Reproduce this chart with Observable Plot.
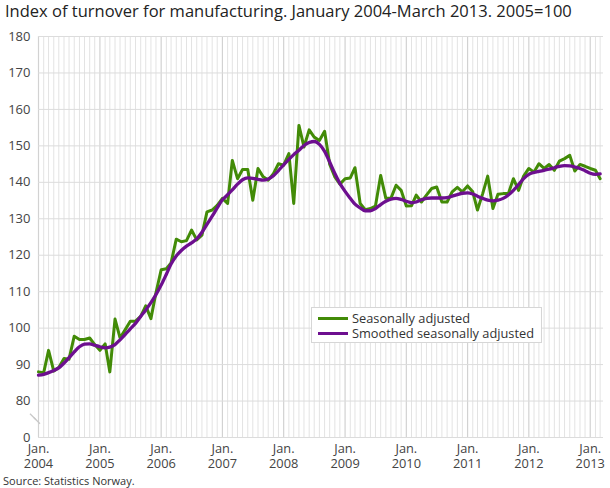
<!DOCTYPE html>
<html>
<head>
<meta charset="utf-8">
<script src="https://cdn.jsdelivr.net/npm/d3@7"></script>
<script src="https://cdn.jsdelivr.net/npm/@observablehq/plot@0.6"></script>
<style>
  html, body { margin: 0; padding: 0; background: #fff; }
  #wrap { position: relative; width: 610px; height: 488px; font-family: "Open Sans", sans-serif; overflow: hidden; }
  #title { position: absolute; left: 5px; top: -1px; font-size: 16.5px; color: #222; white-space: nowrap; }
  #chart { position: absolute; left: 0; top: 22px; }
  #source { position: absolute; left: 3px; top: 473px; font-size: 11px; color: #333; }
  #legend { position: absolute; left: 311px; top: 307px; width: 229px; height: 34px; border: 1px solid #d6d6d6; background: #fff; font-size: 12.8px; color: #333; }
  .item { position: absolute; left: 6px; height: 15px; line-height: 15px; white-space: nowrap; }
  .swatch { display: inline-block; width: 30px; height: 3px; vertical-align: middle; margin-right: 4px; position: relative; top: -1px; }
</style>
</head>
<body>
<div id="wrap">
  <div id="title">Index of turnover for manufacturing. January 2004-March 2013. 2005=100</div>
  <div id="chart"></div>
  <div id="legend"></div>
  <div id="source">Source: Statistics Norway.</div>
</div>
<script>
// Months: January 2004 - March 2013
const startMonth = "2004-01";
const endMonth = "2013-03";

const seriesNames = ["Seasonally adjusted", "Smoothed seasonally adjusted"];
const seriesColors = ["#428b07", "#6d0f8f"];

const seasonallyAdjusted = [
  88.0, 87.8, 93.9, 88.2, 89.2, 91.7, 91.5, 97.8, 96.9, 96.9, 97.3, 95.5,
  93.9, 95.7, 88.0, 102.5, 97.3, 99.6, 101.9, 101.9, 103.2, 106.1, 102.6, 109.7,
  116.0, 116.3, 117.9, 124.4, 123.7, 124.0, 126.9, 124.2, 125.5, 131.9, 132.4, 133.7,
  135.6, 134.2, 146.0, 141.0, 143.5, 143.5, 135.1, 143.8, 141.5, 140.6, 142.4, 145.1,
  144.7, 147.9, 134.2, 155.6, 149.7, 154.4, 152.4, 151.5, 154.0, 145.0, 141.5, 139.5,
  141.0, 141.2, 144.0, 134.2, 132.5, 132.8, 133.5, 141.9, 135.6, 135.6, 139.2, 137.8,
  133.5, 133.6, 136.5, 134.6, 136.5, 138.3, 138.7, 134.6, 134.6, 137.4, 138.6, 137.4,
  139.0, 137.4, 132.4, 136.9, 141.7, 132.8, 136.7, 136.9, 136.9, 141.0, 137.8, 141.7,
  143.8, 142.8, 145.1, 143.8, 144.9, 143.3, 145.8, 146.5, 147.4, 143.1, 144.9, 144.4,
  143.8, 143.3, 141.0
];

const smoothed = [
  87.1, 87.3, 87.8, 88.4, 89.1, 90.4, 91.9, 93.5, 94.9, 95.6, 95.7, 95.3,
  94.9, 94.6, 94.8, 95.5, 96.8, 98.3, 99.8, 101.3, 103.2, 105.0, 107.0, 109.2,
  111.8, 114.8, 117.6, 119.8, 121.3, 122.5, 123.4, 124.5, 126.3, 128.5, 130.7, 133.0,
  135.2, 136.6, 137.9, 139.5, 140.7, 141.2, 141.1, 140.8, 140.6, 140.9, 141.8, 143.2,
  144.8, 146.3, 147.6, 148.8, 150.1, 150.9, 151.2, 150.4, 148.5, 145.6, 142.4, 139.7,
  137.5, 135.6, 134.0, 133.0, 132.2, 132.2, 132.8, 133.9, 134.8, 135.4, 135.6, 135.3,
  134.8, 134.4, 134.6, 135.2, 135.6, 135.7, 135.7, 135.7, 135.8, 136.2, 136.6, 137.0,
  137.1, 136.8, 136.2, 135.6, 135.1, 134.9, 135.1, 135.6, 136.5, 137.8, 139.4, 141.0,
  142.2, 142.7, 143.0, 143.3, 143.6, 144.0, 144.4, 144.6, 144.5, 144.2, 143.8, 143.2,
  142.5, 142.2, 142.3
];

const yTicks = [70, 80, 90, 100, 110, 120, 130, 140, 150, 160, 170, 180];
const yTickLabels = ["0", "80", "90", "100", "110", "120", "130", "140", "150", "160", "170", "180"];
const xTickYears = [2004, 2005, 2006, 2007, 2008, 2009, 2010, 2011, 2012, 2013];
const xTickMonthLabel = "Jan.";

const parseM = d3.utcParse("%Y-%m");
const months = d3.utcMonth.range(parseM(startMonth), d3.utcMonth.offset(parseM(endMonth), 1));
const rows = [];
months.forEach((m, i) => {
  rows.push({date: m, value: seasonallyAdjusted[i], series: seriesNames[0]});
  rows.push({date: m, value: smoothed[i], series: seriesNames[1]});
});
const janTicks = xTickYears.map(y => new Date(Date.UTC(y, 0, 1)));
const otherMonths = months.filter(m => m.getUTCMonth() !== 0);
const janMonths = months.filter(m => m.getUTCMonth() === 0);

const chart = Plot.plot({
  width: 610,
  height: 466,
  marginLeft: 38,
  marginRight: 7,
  marginTop: 14,
  marginBottom: 51,
  style: {fontFamily: "Open Sans, sans-serif", fontSize: "13px", color: "#444", background: "#fff"},
  x: {type: "utc", domain: [parseM(startMonth), new Date(Date.UTC(2013, 2, 21))]},
  y: {domain: [70, 180]},
  color: {domain: seriesNames, range: seriesColors},
  marks: [
    Plot.ruleX(otherMonths, {stroke: "#e3e3e3", strokeWidth: 1}),
    Plot.ruleX(janMonths, {stroke: "#d2d2d2", strokeWidth: 1.2}),
    Plot.ruleY(yTicks, {stroke: "#dcdcdc", strokeWidth: 1}),
    Plot.axisY(yTicks, {tickSize: 0, tickPadding: 8, tickFormat: (d) => yTickLabels[yTicks.indexOf(d)], fontSize: 13, label: null}),
    Plot.axisX(janTicks, {tickSize: 0, tickPadding: 6, tickFormat: () => xTickMonthLabel, fontSize: 12.8, label: null}),
    Plot.axisX(janTicks, {tickSize: 0, tickPadding: 21, tickFormat: (d) => String(d.getUTCFullYear()), fontSize: 12.8, label: null}),
    Plot.line(rows.filter(r => r.series === seriesNames[0]), {x: "date", y: "value", stroke: "series", strokeWidth: 3, strokeLinejoin: "round"}),
    Plot.line(rows.filter(r => r.series === seriesNames[1]), {x: "date", y: "value", stroke: "series", strokeWidth: 3.3, curve: "monotone-x"})
  ]
});
document.getElementById("chart").appendChild(chart);

// axis break marker between 0 and 80
const ys = chart.scale("y");
const xs = chart.scale("x");
const yb = ys.apply(75);
const x0 = xs.apply(parseM(startMonth));
const svg = d3.select(chart);
[-2, 2].forEach(off => {
  svg.append("line")
    .attr("x1", x0 - 6 + off).attr("y1", yb - 3 + off)
    .attr("x2", x0 + off).attr("y2", yb + 3 + off)
    .attr("stroke", "#c8c8c8").attr("stroke-width", 1.2);
});

// legend
const legend = d3.select("#legend");
seriesNames.forEach((name, i) => {
  const item = legend.append("div").attr("class", "item").style("top", (3 + i * 15) + "px");
  item.append("span").attr("class", "swatch").style("background", seriesColors[i]);
  item.append("span").text(name);
});
</script>
</body>
</html>
